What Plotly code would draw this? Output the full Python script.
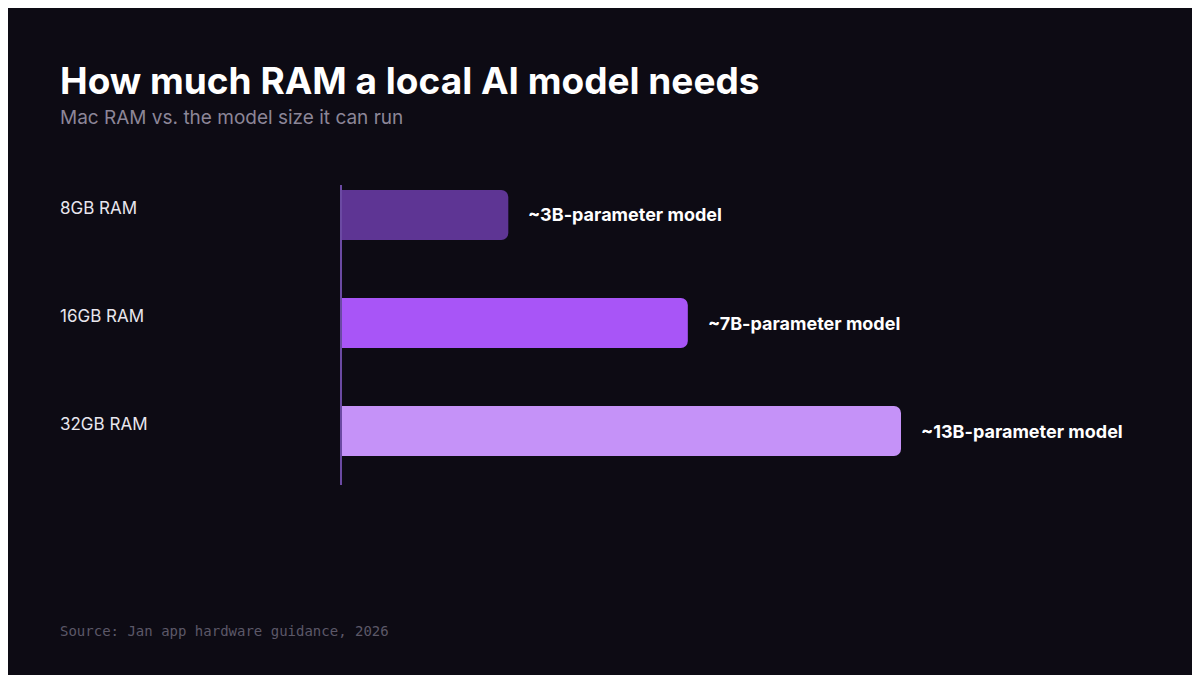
import plotly.graph_objects as go

# dane
ram = ['8GB RAM', '16GB RAM', '32GB RAM']
modele = ['~3B-parameter model', '~7B-parameter model', '~13B-parameter model']
dlugosc = [3.0, 6.2, 10.0]  # szerokosc paska
kolory = ['#5e3594', '#a855f7', '#c592f8']

# strona ma margines 8px, wiec rysunek jest mniejszy i przesuniety
OFF = 8
W, H = 1200 - OFF, 675 - OFF
x0 = 340 - OFF
px_na_jedn = 56.1
zakres = (W - x0) / px_na_jedn


def py(y):
    return (H - (y - OFF)) / H


def px(x):
    return (x - OFF) / W


fig = go.Figure()
fig.add_bar(
    x=dlugosc, y=list(range(len(ram))), orientation='h',
    marker=dict(color=kolory, cornerradius=7, line=dict(width=0)),
    width=0.463, hoverinfo='skip',
)

for i, (r, m, d) in enumerate(zip(ram, modele, dlugosc)):
    fig.add_annotation(x=px(58), xref='paper', y=i, yref='y', text=r, showarrow=False,
                       xanchor='left', yshift=7,
                       font=dict(family='Inter, Roboto, sans-serif', size=17, color='#e8e6ee'))
    fig.add_annotation(x=d, y=i, text=f'<b>{m}</b>', showarrow=False, xanchor='left',
                       xshift=18, font=dict(family='Inter, Roboto, sans-serif', size=18, color='#ffffff'))

fig.add_shape(type='line', xref='paper', yref='paper',
              x0=px(341), x1=px(341), y0=py(485), y1=py(185),
              line=dict(color='#6b4aa3', width=2))

fig.add_annotation(x=px(58), xref='paper', y=py(80), yref='paper', text='<b>How much RAM a local AI model needs</b>',
                   showarrow=False, xanchor='left', yanchor='middle',
                   font=dict(family='Inter, Roboto, sans-serif', size=37, color='#ffffff'))
fig.add_annotation(x=px(58), xref='paper', y=py(118), yref='paper', text='Mac RAM vs. the model size it can run',
                   showarrow=False, xanchor='left', yanchor='middle',
                   font=dict(family='Inter, Roboto, sans-serif', size=19, color='#8c8698'))
fig.add_annotation(x=px(58), xref='paper', y=py(631), yref='paper', text='Source: Jan app hardware guidance, 2026',
                   showarrow=False, xanchor='left', yanchor='middle',
                   font=dict(family='DejaVu Sans Mono, monospace', size=14, color='#5c5868'))

fig.update_layout(
    width=W, height=H, margin=dict(l=0, r=0, t=0, b=0),
    paper_bgcolor='#0d0b14', plot_bgcolor='#0d0b14', showlegend=False,
    xaxis=dict(domain=[x0 / W, 1], range=[0, zakres], visible=False),
    yaxis=dict(domain=[py(485), py(161)], range=[2.5, -0.5], visible=False),
)

fig.write_html('out.html')
